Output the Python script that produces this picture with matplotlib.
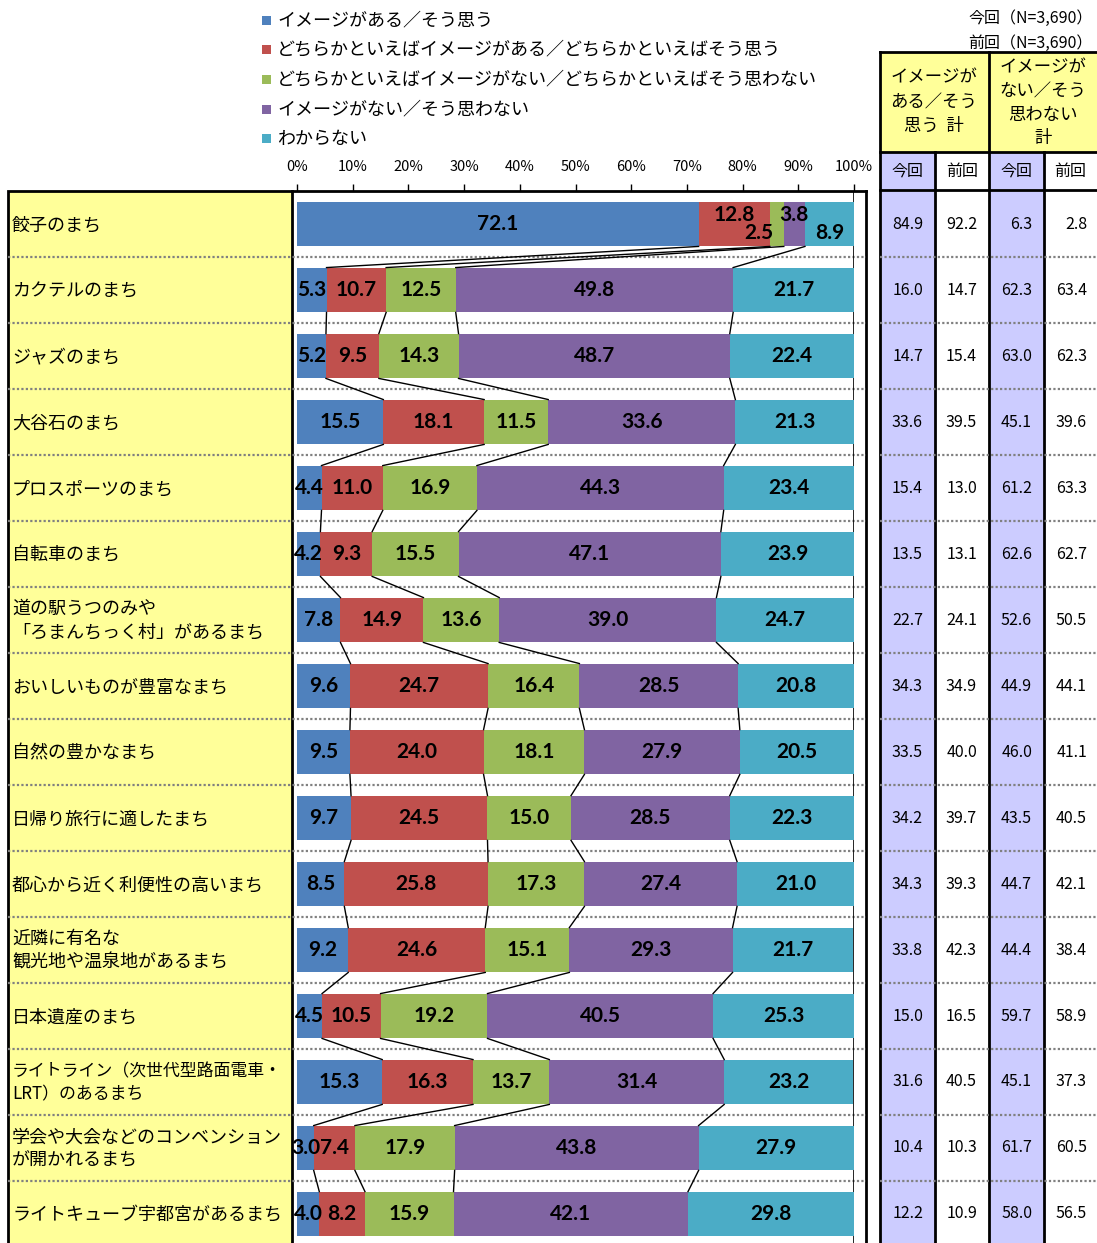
import matplotlib
matplotlib.use('Agg')
import matplotlib.pyplot as plt
from matplotlib.patches import Rectangle

plt.rcParams['font.family'] = ['Noto Sans CJK JP', 'DejaVu Sans']

# --- data -------------------------------------------------------------
series = ['イメージがある／そう思う',
          'どちらかといえばイメージがある／どちらかといえばそう思う',
          'どちらかといえばイメージがない／どちらかといえばそう思わない',
          'イメージがない／そう思わない',
          'わからない']
colors = ['#4F81BD', '#C0504D', '#9BBB59', '#8064A2', '#4BACC6']

items = ['餃子のまち', 'カクテルのまち', 'ジャズのまち', '大谷石のまち',
         'プロスポーツのまち', '自転車のまち',
         '道の駅うつのみや\n「ろまんちっく村」があるまち',
         'おいしいものが豊富なまち', '自然の豊かなまち', '日帰り旅行に適したまち',
         '都心から近く利便性の高いまち', '近隣に有名な\n観光地や温泉地があるまち',
         '日本遺産のまち', 'ライトライン（次世代型路面電車・\nLRT）のあるまち',
         '学会や大会などのコンベンション\nが開かれるまち',
         'ライトキューブ宇都宮があるまち']

yes = [72.1, 5.3, 5.2, 15.5, 4.4, 4.2, 7.8, 9.6, 9.5, 9.7, 8.5, 9.2, 4.5, 15.3, 3.0, 4.0]
rather_yes = [12.8, 10.7, 9.5, 18.1, 11.0, 9.3, 14.9, 24.7, 24.0, 24.5, 25.8, 24.6, 10.5, 16.3, 7.4, 8.2]
rather_no = [2.5, 12.5, 14.3, 11.5, 16.9, 15.5, 13.6, 16.4, 18.1, 15.0, 17.3, 15.1, 19.2, 13.7, 17.9, 15.9]
no = [3.8, 49.8, 48.7, 33.6, 44.3, 47.1, 39.0, 28.5, 27.9, 28.5, 27.4, 29.3, 40.5, 31.4, 43.8, 42.1]
unknown = [8.9, 21.7, 22.4, 21.3, 23.4, 23.9, 24.7, 20.8, 20.5, 22.3, 21.0, 21.7, 25.3, 23.2, 27.9, 29.8]

pos_now = [84.9, 16.0, 14.7, 33.6, 15.4, 13.5, 22.7, 34.3, 33.5, 34.2, 34.3, 33.8, 15.0, 31.6, 10.4, 12.2]
pos_prev = [92.2, 14.7, 15.4, 39.5, 13.0, 13.1, 24.1, 34.9, 40.0, 39.7, 39.3, 42.3, 16.5, 40.5, 10.3, 10.9]
neg_now = [6.3, 62.3, 63.0, 45.1, 61.2, 62.6, 52.6, 44.9, 46.0, 43.5, 44.7, 44.4, 59.7, 45.1, 61.7, 58.0]
neg_prev = [2.8, 63.4, 62.3, 39.6, 63.3, 62.7, 50.5, 44.1, 41.1, 40.5, 42.1, 38.4, 58.9, 37.3, 60.5, 56.5]

# label nudges for the crowded first row: (row, segment) -> (dx %, dy rows)
nudge = {(0, 1): (0, -0.14), (0, 2): (-3.2, 0.14), (0, 3): (0, -0.14), (0, 4): (0, 0.14)}

# --- layout (pixels) --------------------------------------------------
W, H = 1097, 1243
TOP, ROW = 191, 66
BAR_L, BAR_R = 297, 854
BAR_H = 0.68

fig = plt.figure(figsize=(W / 100, H / 100), dpi=100)

# frame, label column, table
ax0 = fig.add_axes([0, 0, 1, 1])
ax0.set_xlim(0, W)
ax0.set_ylim(H, 0)
ax0.axis('off')

ax0.add_patch(Rectangle((8, TOP), 284, H - TOP + 5, facecolor='#FFFF99',
                        edgecolor='black', lw=2))
ax0.plot([292, 866], [TOP, TOP], color='black', lw=2)
ax0.plot([866, 866], [TOP, H], color='black', lw=2)

for i, name in enumerate(items):
    fs = 12.2 if len(name) > 20 and '（' in name else 13
    ax0.text(12, TOP + ROW * (i + 0.5) + 1, name, ha='left', va='center',
             fontsize=fs, linespacing=1.4)

# table header
ax0.add_patch(Rectangle((880, 52), 217, 100, facecolor='#FFFF99', edgecolor='none'))
for x0 in (880, 989):
    ax0.add_patch(Rectangle((x0, 152), 55, H - 152, facecolor='#CCCCFF', edgecolor='none'))
for y in (52, 152, 190):
    ax0.plot([880, 1097], [y, y], color='black', lw=2)
for x in (880, 989):
    ax0.plot([x, x], [52, H], color='black', lw=2)
for x in (935, 1044):
    ax0.plot([x, x], [152, H], color='black', lw=2)

ax0.text(934, 102, 'イメージが\nある／そう\n思う  計', ha='center', va='center',
         fontsize=12.5, linespacing=1.45)
ax0.text(1043, 103, 'イメージが\nない／そう\n思わない\n計', ha='center', va='center',
         fontsize=12.5, linespacing=1.4)
for xc, t in zip((907.5, 962, 1016.5, 1070), ('今回', '前回', '今回', '前回')):
    ax0.text(xc, 171, t, ha='center', va='center', fontsize=11.5)
ax0.text(1093, 18, '今回（N=3,690）', ha='right', va='center', fontsize=11.5)
ax0.text(1093, 43, '前回（N=3,690）', ha='right', va='center', fontsize=11.5)

cols = [(pos_now, 923), (pos_prev, 977), (neg_now, 1032), (neg_prev, 1087)]
for vals, xr in cols:
    for i, v in enumerate(vals):
        ax0.text(xr, TOP + ROW * (i + 0.5), f'{v:.1f}', ha='right', va='center',
                 fontsize=11.5)

# dotted row separators
for k in range(1, len(items)):
    y = TOP + ROW * k
    ax0.plot([8, 866], [y, y], color='#808080', ls=(0, (1, 1)), lw=1.6)
    ax0.plot([880, 1097], [y, y], color='#808080', ls=(0, (1, 1)), lw=1.6)

# legend
for j, (lab, c) in enumerate(zip(series, colors)):
    y = 20 + 29.7 * j
    ax0.add_patch(Rectangle((262, y - 4.5), 9, 9, facecolor=c, edgecolor='none'))
    ax0.text(277, y, lab, ha='left', va='center', fontsize=13)

# --- stacked bars -----------------------------------------------------
ax = fig.add_axes([BAR_L / W, 0, (BAR_R - BAR_L) / W, (H - TOP) / H])
ax.patch.set_visible(False)
ax.set_xlim(0, 100)
ax.set_ylim((H - TOP) / ROW, 0)
for s in ax.spines.values():
    s.set_visible(False)
ax.set_yticks([])
ax.xaxis.tick_top()
ax.set_xticks(range(0, 101, 10))
ax.set_xticklabels([f'{t}%' for t in range(0, 101, 10)])
ax.tick_params(axis='x', direction='out', length=5, width=1, pad=7, labelsize=10.5)

ax.axvline(100, color='black', lw=1.2, zorder=0)

data = [yes, rather_yes, rather_no, no, unknown]
ypos = [i + 0.5 for i in range(len(items))]
left = [0.0] * len(items)
lefts = []
for vals, c in zip(data, colors):
    ax.barh(ypos, vals, left=left, height=BAR_H, color=c, edgecolor='none', zorder=2)
    lefts.append(left[:])
    left = [l + v for l, v in zip(left, vals)]

for j, vals in enumerate(data):
    for i, v in enumerate(vals):
        dx, dy = nudge.get((i, j), (0, 0))
        ax.text(lefts[j][i] + v / 2 + dx, ypos[i] + dy, f'{v:.1f}', ha='center',
                va='center', fontsize=15, fontweight='bold',
                family=['Lato', 'DejaVu Sans'], zorder=4)

# connector lines between segment boundaries of neighbouring rows
for i in range(len(items) - 1):
    for j in range(1, 5):
        ax.plot([lefts[j][i], lefts[j][i + 1]],
                [ypos[i] + BAR_H / 2, ypos[i + 1] - BAR_H / 2],
                color='black', lw=1, zorder=3)

fig.savefig('out.png', dpi=100)
